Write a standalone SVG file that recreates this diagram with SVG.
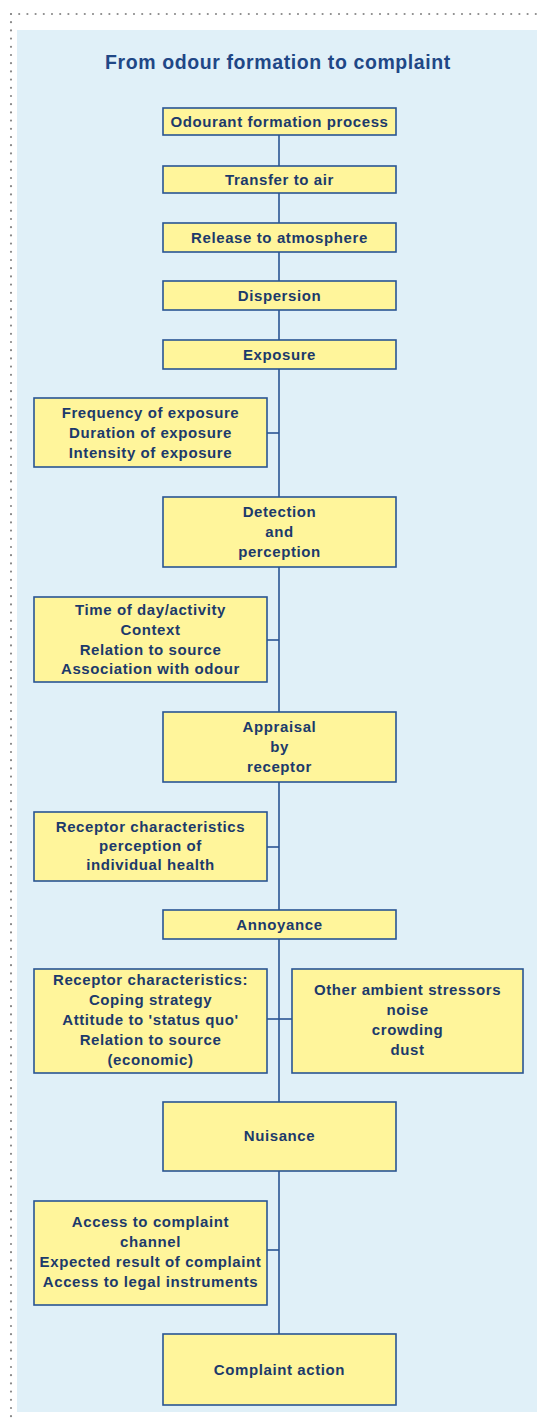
<svg xmlns="http://www.w3.org/2000/svg" width="537" height="1421" viewBox="0 0 537 1421">
<style>
.box{fill:#FFF59B;stroke:#2A5593;stroke-width:1.6}
.t{font-family:"Liberation Sans",Arial,sans-serif;font-weight:bold;font-size:15px;letter-spacing:0.6px;fill:#1C3A6B;text-anchor:middle}
.title{font-family:"Liberation Sans",Arial,sans-serif;font-weight:bold;font-size:19.5px;letter-spacing:0.6px;fill:#1F4786;text-anchor:middle}
.c{stroke:#2A5593;stroke-width:1.6;fill:none}
.dots{stroke:#8A8A8A;stroke-width:2.2;stroke-linecap:round;stroke-dasharray:0 8.2;fill:none}
</style>
<rect x="0" y="0" width="537" height="1421" fill="#FFFFFF"/>
<line class="dots" x1="11" y1="14" x2="537" y2="14"/>
<line class="dots" x1="11" y1="14" x2="11" y2="1421"/>
<rect x="17" y="30" width="520" height="1382" fill="#E0F0F8"/>
<text class="title" x="278" y="69">From odour formation to complaint</text>
<g id="connectors">
<line class="c" x1="279" y1="135" x2="279" y2="166"/>
<line class="c" x1="279" y1="193" x2="279" y2="223"/>
<line class="c" x1="279" y1="252" x2="279" y2="281"/>
<line class="c" x1="279" y1="310" x2="279" y2="340"/>
<line class="c" x1="279" y1="369" x2="279" y2="497"/>
<line class="c" x1="279" y1="567" x2="279" y2="712"/>
<line class="c" x1="279" y1="782" x2="279" y2="910"/>
<line class="c" x1="279" y1="939" x2="279" y2="1102"/>
<line class="c" x1="279" y1="1171" x2="279" y2="1334"/>
<line class="c" x1="267" y1="433" x2="279" y2="433"/>
<line class="c" x1="267" y1="640" x2="279" y2="640"/>
<line class="c" x1="267" y1="847" x2="279" y2="847"/>
<line class="c" x1="267" y1="1019" x2="292" y2="1019"/>
<line class="c" x1="267" y1="1250" x2="279" y2="1250"/>
</g>
<g id="n1"><rect class="box" x="163" y="108" width="233" height="27"/><text class="t" x="279.5" y="127">Odourant formation process</text></g>
<g id="n2"><rect class="box" x="163" y="166" width="233" height="27"/><text class="t" x="279.5" y="185">Transfer to air</text></g>
<g id="n3"><rect class="box" x="163" y="223" width="233" height="29"/><text class="t" x="279.5" y="243">Release to atmosphere</text></g>
<g id="n4"><rect class="box" x="163" y="281" width="233" height="29"/><text class="t" x="279.5" y="301">Dispersion</text></g>
<g id="n5"><rect class="box" x="163" y="340" width="233" height="29"/><text class="t" x="279.5" y="360">Exposure</text></g>
<g id="n6"><rect class="box" x="34" y="398" width="233" height="69"/><text class="t" x="150.5" y="418">Frequency of exposure</text><text class="t" x="150.5" y="438">Duration of exposure</text><text class="t" x="150.5" y="458">Intensity of exposure</text></g>
<g id="n7"><rect class="box" x="163" y="497" width="233" height="70"/><text class="t" x="279.5" y="517">Detection</text><text class="t" x="279.5" y="537">and</text><text class="t" x="279.5" y="557">perception</text></g>
<g id="n8"><rect class="box" x="34" y="597" width="233" height="85"/><text class="t" x="150.5" y="615">Time of day/activity</text><text class="t" x="150.5" y="635">Context</text><text class="t" x="150.5" y="655">Relation to source</text><text class="t" x="150.5" y="674">Association with odour</text></g>
<g id="n9"><rect class="box" x="163" y="712" width="233" height="70"/><text class="t" x="279.5" y="732">Appraisal</text><text class="t" x="279.5" y="752">by</text><text class="t" x="279.5" y="772">receptor</text></g>
<g id="n10"><rect class="box" x="34" y="812" width="233" height="69"/><text class="t" x="150.5" y="832">Receptor characteristics</text><text class="t" x="150.5" y="851">perception of</text><text class="t" x="150.5" y="870">individual health</text></g>
<g id="n11"><rect class="box" x="163" y="910" width="233" height="29"/><text class="t" x="279.5" y="930">Annoyance</text></g>
<g id="n12"><rect class="box" x="34" y="969" width="233" height="104"/><text class="t" x="150.5" y="985">Receptor characteristics:</text><text class="t" x="150.5" y="1005">Coping strategy</text><text class="t" x="150.5" y="1025">Attitude to 'status quo'</text><text class="t" x="150.5" y="1045">Relation to source</text><text class="t" x="150.5" y="1065">(economic)</text></g>
<g id="n13"><rect class="box" x="292" y="969" width="231" height="104"/><text class="t" x="407.5" y="995">Other ambient stressors</text><text class="t" x="407.5" y="1015">noise</text><text class="t" x="407.5" y="1035">crowding</text><text class="t" x="407.5" y="1055">dust</text></g>
<g id="n14"><rect class="box" x="163" y="1102" width="233" height="69"/><text class="t" x="279.5" y="1141">Nuisance</text></g>
<g id="n15"><rect class="box" x="34" y="1201" width="233" height="104"/><text class="t" x="150.5" y="1227">Access to complaint</text><text class="t" x="150.5" y="1247">channel</text><text class="t" x="150.5" y="1267">Expected result of complaint</text><text class="t" x="150.5" y="1287">Access to legal instruments</text></g>
<g id="n16"><rect class="box" x="163" y="1334" width="233" height="71"/><text class="t" x="279.5" y="1375">Complaint action</text></g>
</svg>
